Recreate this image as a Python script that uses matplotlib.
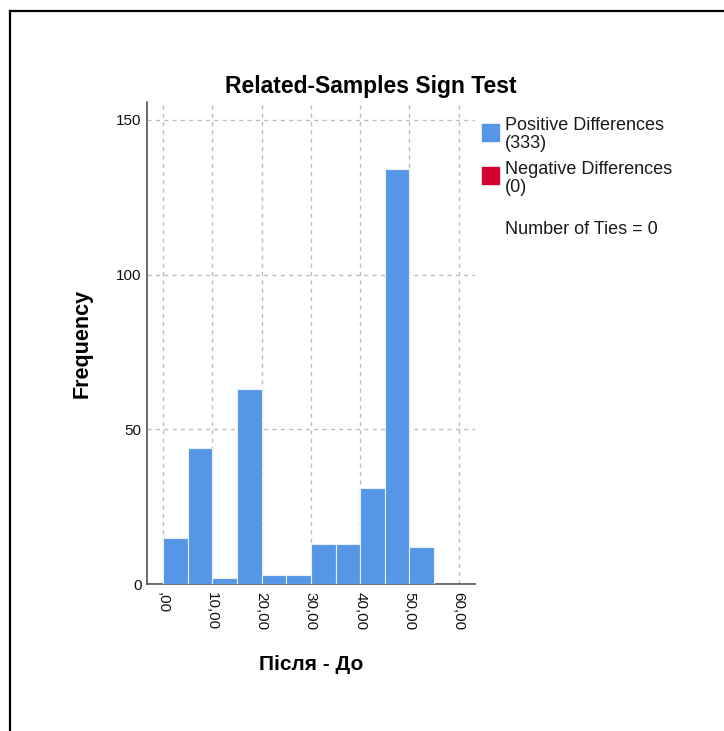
import numpy as np
import matplotlib.pyplot as plt
from matplotlib.patches import Rectangle
from matplotlib.lines import Line2D

plt.rcParams['font.family'] = ['Liberation Sans', 'DejaVu Sans']

# дані
bin_start = [0, 5, 10, 15, 20, 25, 30, 35, 40, 45, 50]
bin_width = 5
counts = [15, 44, 2, 63, 3, 3, 13, 13, 31, 134, 12]
neg_count = 0
ties = 0
x_ticks = [0, 10, 20, 30, 40, 50, 60]
x_ticklabels = [',00', '10,00', '20,00', '30,00', '40,00', '50,00', '60,00']
y_ticks = [0, 50, 100, 150]

blue = '#5596E6'
red = '#D50032'

W, H = 724, 731
fig = plt.figure(figsize=(W / 100, H / 100), dpi=100)
ax = fig.add_axes([147 / W, 1 - 584 / H, (475 - 147) / W, (584 - 102) / H])

ax.bar(bin_start, counts, width=bin_width, align='edge', color=blue,
       edgecolor='#E8F0FA', linewidth=0.8, zorder=3)

ax.set_xlim(-3.25, 63.3)
ax.set_ylim(0, 155.8)
ax.set_xticks(x_ticks)
ax.set_xticklabels(x_ticklabels, rotation=270, fontsize=11)
ax.set_yticks(y_ticks)
ax.tick_params(axis='both', length=0, labelsize=11, colors='#111111')
ax.tick_params(axis='x', pad=6)
ax.tick_params(axis='y', pad=4)

ax.grid(True, color='#BDBDBD', linestyle=(0, (3, 3)), linewidth=1, zorder=0)
for s in ['top', 'right']:
    ax.spines[s].set_visible(False)
for s in ['left', 'bottom']:
    ax.spines[s].set_color('#444444')
    ax.spines[s].set_linewidth(1.1)

ax.set_ylabel('Frequency', fontsize=15.5, fontweight='bold', labelpad=17)
ax.set_xlabel('Після - До', fontsize=15, fontweight='bold', labelpad=18)

fig.text(371 / W, 1 - 86 / H, 'Related-Samples Sign Test', fontsize=16.5,
         fontweight='bold', ha='center', va='center')

# легенда
fig.patches.append(Rectangle((482 / W, 1 - 141 / H), 17 / W, 17 / H,
                             transform=fig.transFigure, color=blue))
fig.patches.append(Rectangle((482 / W, 1 - 184 / H), 17 / W, 17 / H,
                             transform=fig.transFigure, color=red))
legend_lines = [('Positive Differences', 126), ('(%d)' % sum(counts), 144),
                ('Negative Differences', 169), ('(%d)' % neg_count, 187),
                ('Number of Ties = %d' % ties, 229)]
for txt, yc in legend_lines:
    fig.text(505 / W, 1 - yc / H, txt, fontsize=13, va='center', ha='left',
             color='#1a1a1a')

# рамка
fig.lines.append(Line2D([9.5 / W, 9.5 / W], [0, 1 - 11 / H],
                        transform=fig.transFigure, color='black', lw=1.6))
fig.lines.append(Line2D([9.5 / W, 1], [1 - 11 / H, 1 - 11 / H],
                        transform=fig.transFigure, color='black', lw=1.6))

fig.savefig('out.png', dpi=100)
